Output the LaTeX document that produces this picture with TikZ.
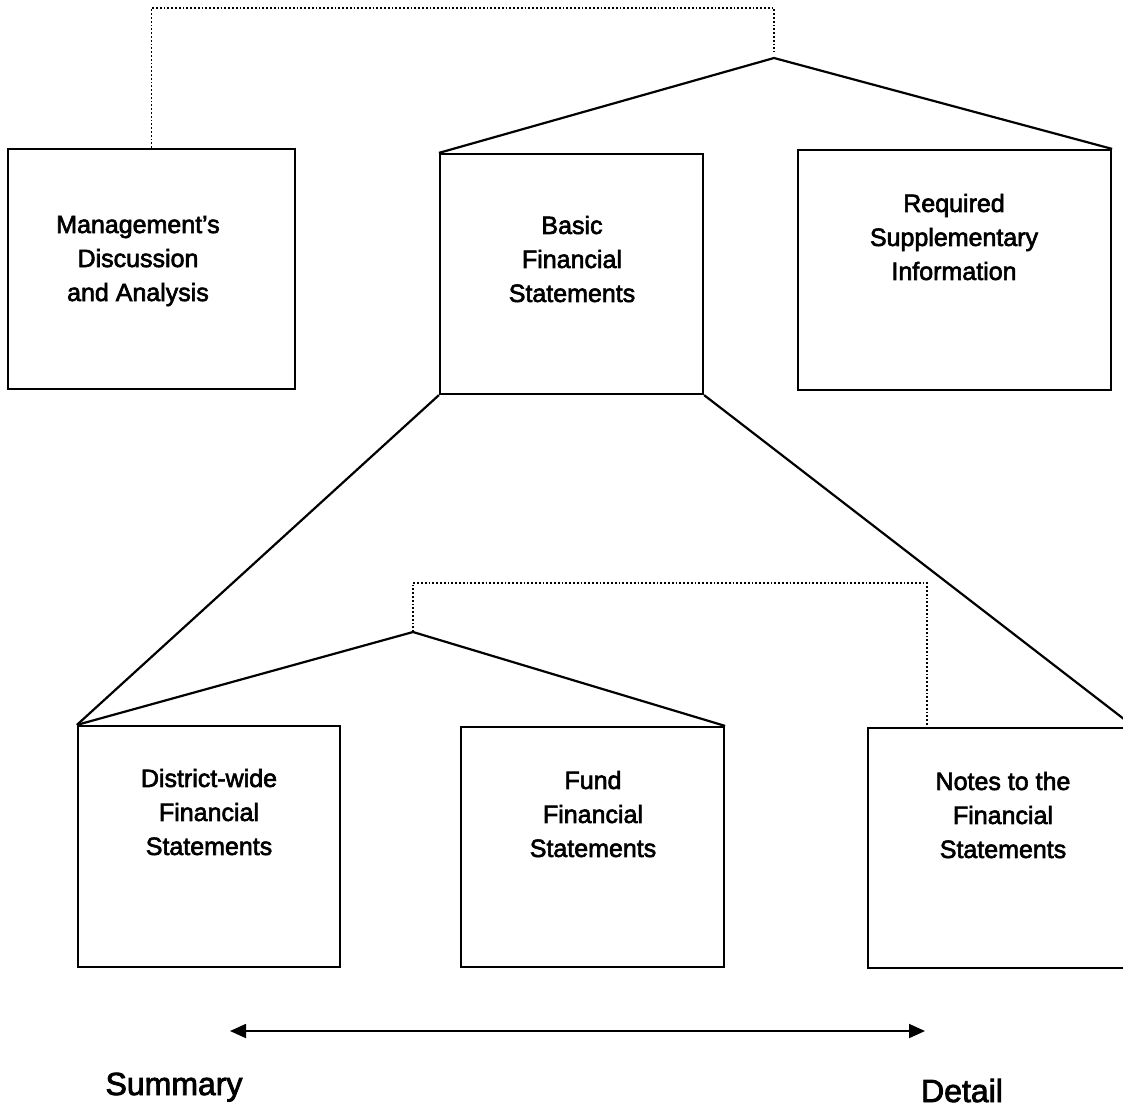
\documentclass[tikz,border=0pt]{standalone}
\usepackage{fontspec}
\setmainfont{Liberation Sans}[FakeBold=2.5]
\usetikzlibrary{arrows.meta}
\tikzset{
statebox/.style 2 args={ % Sets the properties for each statement box
draw,
line width=1.1pt,
minimum width=#1*0.5pt,
minimum height=#2*0.5pt,
inner sep=0pt},
boxtext/.style={align=center, font=\fontsize{12.5}{17}\selectfont},
endtext/.style={anchor=base, font=\fontsize{16}{19}\selectfont},
link/.style={draw, line width=1.1pt}, % Solid lines joining the boxes
tie/.style={draw, densely dotted, line width=0.9pt}, % Dotted ties
spanarrow/.style={{Triangle[length=8pt,width=7pt]}-{Triangle[length=8pt,width=7pt]}, line width=0.9pt}}

\begin{document}
\begin{tikzpicture}[x=0.5pt, y=-0.5pt]
\useasboundingbox (0,0) rectangle (1123,1110);
% upper row
\node[statebox={287}{240}] (mda) at (151.5,269) {};
\node[statebox={263}{240}] (basic) at (571.5,274) {};
\node[statebox={313}{240}] (rsi) at (954.5,270) {};
\node[boxtext] (mdatxt) at (138,261) {Management’s\\Discussion\\and Analysis};
\node[boxtext] (basictxt) at (572,259) {Basic\\Financial\\Statements};
\node[boxtext] (rsitxt) at (954,237) {Required\\Supplementary\\Information};
% lower row
\node[statebox={262}{241}] (dist) at (209,846.5) {};
\node[statebox={263}{240}] (fund) at (592.5,847) {};
\node[statebox={265}{240}] (notes) at (1000.5,848) {};
\node[boxtext] (disttxt) at (209,812) {District-wide\\Financial\\Statements};
\node[boxtext] (fundtxt) at (593,814) {Fund\\Financial\\Statements};
\node[boxtext] (notestxt) at (1003,815) {Notes to the\\Financial\\Statements};
% apexes and dotted corners
\coordinate (top) at (774,58);
\coordinate (topdot) at (774,8);
\coordinate (topgap) at (774,52);
\coordinate (mid) at (413,632);
\coordinate (middot) at (927,583);
\draw[link] (basic.north west) -- (top) -- (rsi.north east);
\draw[link] (dist.north west) -- (mid) -- (fund.north east);
\draw[link] (basic.south west) -- (dist.north west);
\draw[link] (basic.south east) -- (notes.north east);
\draw[tie] (mda.north) -- (mda.north |- topdot) -- (topdot) -- (topgap);
\draw[tie] (mid) -- (mid |- middot) -- (middot) -- (middot |- notes.north);
% summary to detail
\coordinate (arrl) at (230,1031);
\coordinate (arrr) at (925,1031);
\draw[spanarrow] (arrl) -- (arrr);
\node[endtext] (summary) at (174,1095) {Summary};
\node[endtext] (detail) at (962,1102) {Detail};
\end{tikzpicture}
\end{document}
